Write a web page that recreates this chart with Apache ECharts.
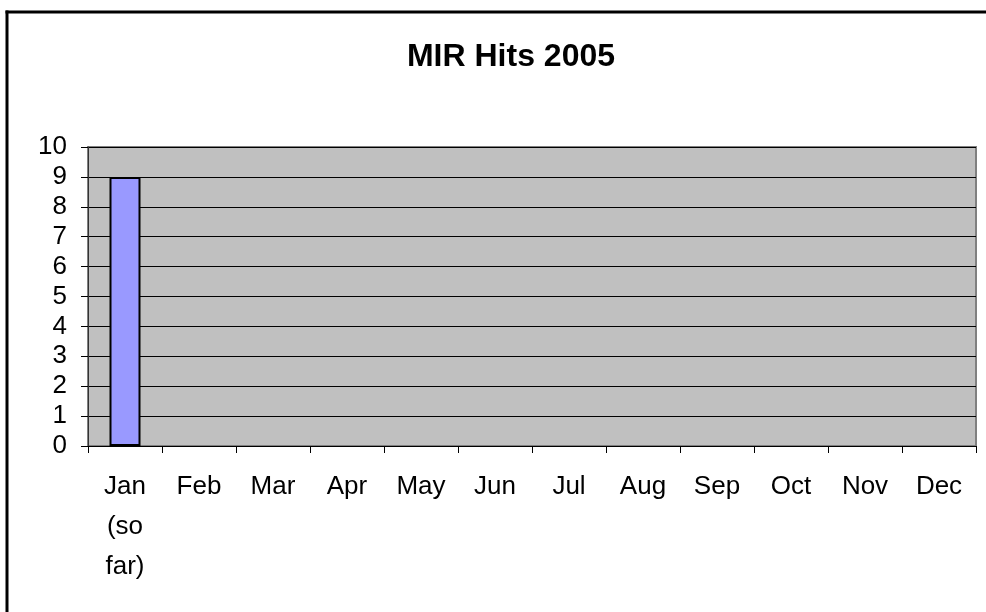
<!DOCTYPE html>
<html lang="en">
<head>
    <meta charset="UTF-8">
    <title>MIR Hits 2005</title>
    <script src="https://cdn.jsdelivr.net/npm/echarts@6/dist/echarts.min.js"></script>
    <style>
        html, body { margin: 0; padding: 0; background: #fff; overflow: hidden; }
    </style>
</head>
<body>
<div id="main" style="width: 986px;height:612px;"></div>
<script type="text/javascript">
    // chart data
    var months = ['Jan (so far)', 'Feb', 'Mar', 'Apr', 'May', 'Jun', 'Jul', 'Aug', 'Sep', 'Oct', 'Nov', 'Dec'];
    var hits = [9, null, null, null, null, null, null, null, null, null, null, null];
    var yTicks = [0, 1, 2, 3, 4, 5, 6, 7, 8, 9, 10];

    var font = 'Liberation Sans, Arial, sans-serif';
    var myChart = echarts.init(document.getElementById('main'));

    var option = {
        animation: false,
        backgroundColor: '#ffffff',
        title: {
            text: 'MIR Hits 2005',
            left: 506,
            top: 36,
            textAlign: 'center',
            textStyle: { fontFamily: font, fontSize: 32, fontWeight: 'bold', color: '#000' }
        },
        // outer chart frame: left edge and top edge
        graphic: [{
            type: 'line',
            shape: { x1: 7, y1: 10.5, x2: 7, y2: 640 },
            style: { stroke: '#000', lineWidth: 3 },
            silent: true
        }, {
            type: 'line',
            shape: { x1: 5.5, y1: 12, x2: 990, y2: 12 },
            style: { stroke: '#000', lineWidth: 3 },
            silent: true
        }],
        grid: {
            left: 88, right: 10, top: 147, bottom: 166,
            show: true,
            backgroundColor: '#C0C0C0',
            borderColor: '#808080',
            borderWidth: 2
        },
        xAxis: {
            type: 'category',
            data: months,
            axisLine: { lineStyle: { color: '#000', width: 1 } },
            axisTick: { show: true, length: 7, lineStyle: { color: '#000' } },
            axisLabel: {
                interval: 0,
                margin: 21,
                color: '#000',
                fontFamily: font,
                fontSize: 26,
                lineHeight: 40,
                formatter: function (v) { return v.split(' ').join('\n'); }
            }
        },
        yAxis: {
            type: 'value',
            min: yTicks[0],
            max: yTicks[yTicks.length - 1],
            interval: 1,
            axisLine: { show: true, lineStyle: { color: '#333', width: 1 } },
            axisTick: { show: true, length: 7, lineStyle: { color: '#000' } },
            splitLine: { lineStyle: { color: '#000', width: 1 } },
            axisLabel: {
                margin: 21,
                color: '#000',
                fontFamily: font,
                fontSize: 26
            }
        },
        series: [{
            name: 'Hits',
            type: 'bar',
            data: hits,
            barWidth: 31,
            itemStyle: { color: '#9999FF', borderColor: '#000', borderWidth: 2 }
        }]
    };

    myChart.setOption(option);
</script>
</body>
</html>
